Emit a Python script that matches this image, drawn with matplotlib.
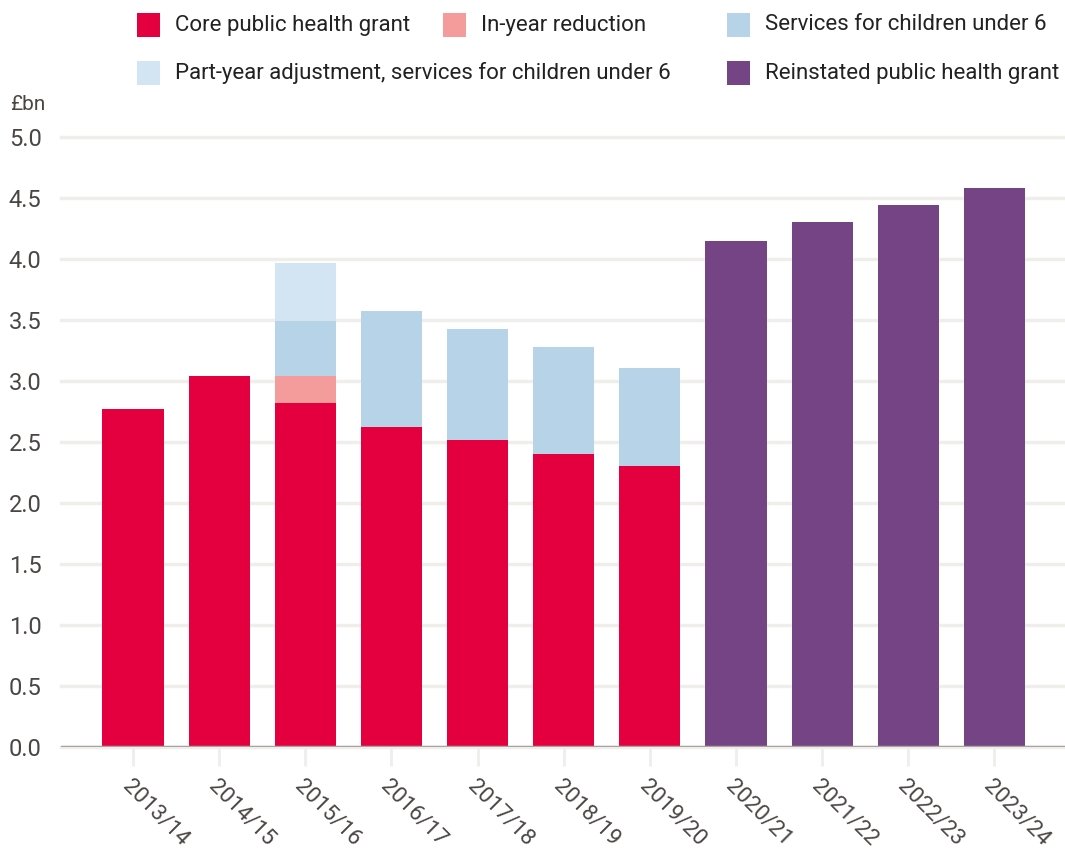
import numpy as np
import matplotlib.pyplot as plt
from matplotlib.patches import Rectangle

plt.rcParams['font.family'] = ['Roboto', 'DejaVu Sans']

years = ['2013/14', '2014/15', '2015/16', '2016/17', '2017/18', '2018/19',
         '2019/20', '2020/21', '2021/22', '2022/23', '2023/24']
core = [2.77, 3.04, 2.82, 2.62, 2.52, 2.40, 2.30, 0, 0, 0, 0]
in_year = [0, 0, 0.22, 0, 0, 0, 0, 0, 0, 0, 0]
under6 = [0, 0, 0.45, 0.95, 0.91, 0.88, 0.81, 0, 0, 0, 0]
part_year = [0, 0, 0.48, 0, 0, 0, 0, 0, 0, 0, 0]
reinstated = [0, 0, 0, 0, 0, 0, 0, 4.15, 4.30, 4.44, 4.58]

names = ['Core public health grant', 'In-year reduction',
         'Services for children under 6',
         'Part-year adjustment, services for children under 6',
         'Reinstated public health grant']
colors = ['#e4003f', '#f49c9b', '#b7d3e8', '#d3e4f2', '#744484']
txt = '#4a4644'

fig = plt.figure(figsize=(10.65, 8.55), dpi=100)
ax = fig.add_axes([61/1065, 108/855, 1004/1065, 610/855])

x = np.arange(len(years))
bottom = np.zeros(len(years))
for vals, c in zip([core, in_year, under6, part_year, reinstated], colors):
    vals = np.array(vals)
    ax.bar(x, vals, 0.71, bottom=bottom, color=c, zorder=3)
    bottom += vals

ax.set_xlim(-0.836, 10.82)
ax.set_ylim(0, 5.0)
ax.set_yticks(np.arange(0, 5.01, 0.5))
ax.set_yticklabels(['%.1f' % v for v in np.arange(0, 5.01, 0.5)])
ax.yaxis.grid(True, color='#efeeeb', lw=2.5, zorder=0)
for s in ax.spines.values():
    s.set_visible(False)
ax.axhline(0, color='#a8a2a0', lw=2.5, zorder=4)
for g in ax.get_ygridlines():
    g.set_clip_on(False)

ax.set_xticks(x)
ax.set_xticklabels(years, rotation=-45, ha='left', va='top',
                   rotation_mode='anchor')
ax.tick_params(axis='x', length=14, width=2, color='#efeeeb', pad=7,
               labelsize=16, labelcolor=txt)
ax.tick_params(axis='y', length=0, pad=14, labelsize=17, labelcolor=txt)

fig.text(10/1065, 1 - 104/855, '£bn', fontsize=15, color=txt,
         va='center', ha='left')

# legend laid out by hand: 3 entries on the first row, 2 on the second
spots = [(137, 25), (443, 25), (727, 25), (137, 73), (727, 73)]
for (px, py), n, c in zip(spots, names, colors):
    fig.add_artist(Rectangle((px/1065, 1 - (py + 12)/855), 23/1065, 24/855,
                             transform=fig.transFigure, color=c, lw=0))
    fig.text((px + 38)/1065, 1 - py/855, n, fontsize=16, color='#222222',
             va='center', ha='left')

fig.savefig('out.png', dpi=100)
